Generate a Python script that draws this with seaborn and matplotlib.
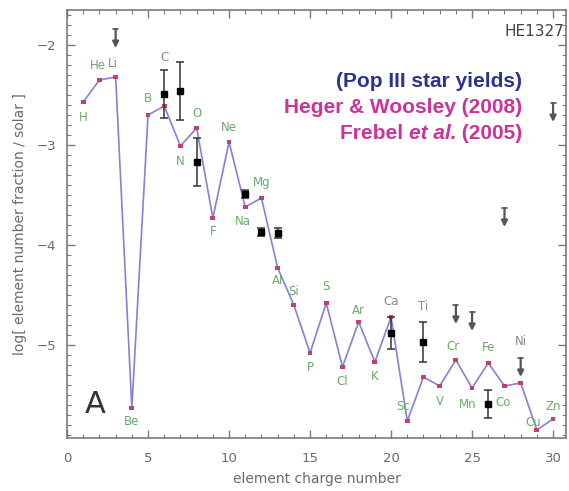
import matplotlib
matplotlib.use("Agg")
import matplotlib.pyplot as plt
from matplotlib.ticker import MultipleLocator
import seaborn as sns

# --- data -------------------------------------------------------------
elements = ["H", "He", "Li", "Be", "B", "C", "N", "O", "F", "Ne",
            "Na", "Mg", "Al", "Si", "P", "S", "Cl", "Ar", "K", "Ca",
            "Sc", "Ti", "V", "Cr", "Mn", "Fe", "Co", "Ni", "Cu", "Zn"]
charge = list(range(1, 31))

# Pop III yield model, log number fraction / solar
model_yield = [-2.57, -2.35, -2.32, -5.63, -2.70, -2.61, -3.01, -2.83, -3.73, -2.97,
               -3.62, -3.53, -4.23, -4.60, -5.08, -4.58, -5.22, -4.77, -5.17, -4.72,
               -5.76, -5.32, -5.41, -5.15, -5.43, -5.18, -5.41, -5.38, -5.85, -5.74]

# HE1327 measured abundances with 1-sigma errors
obs_charge = [6, 7, 8, 11, 12, 13, 20, 22, 26]
obs_value = [-2.49, -2.46, -3.17, -3.49, -3.87, -3.88, -4.88, -4.97, -5.59]
obs_error = [0.24, 0.29, 0.24, 0.04, 0.04, 0.05, 0.16, 0.20, 0.14]

# HE1327 upper limits
lim_charge = [3, 24, 25, 27, 28, 30]
lim_value = [-1.84, -4.60, -4.67, -3.63, -5.13, -2.58]

# --- label placement (offsets from the model point) --------------------
label_dx = [0, -0.1, -0.15, 0, 0, 0, 0, 0, 0, 0,
            -0.15, 0, 0, 0, 0, 0, 0, 0, 0, 0,
            -0.25, 0, 0, -0.2, -0.25, 0, -0.1, 0, -0.25, 0]
label_dy = [-0.15, 0.15, 0.14, -0.14, 0.17, 0.49, -0.15, 0.15, -0.14, 0.15,
            -0.15, 0.15, -0.13, 0.13, -0.15, 0.16, -0.15, 0.11, -0.15, 0.15,
            0.14, 0.70, -0.16, 0.13, -0.17, 0.15, -0.17, 0.41, 0.07, 0.12]
grey_labels = {"Li", "C", "Ti", "Ca", "Ni"}

# --- figure -----------------------------------------------------------
sns.set_theme(style="ticks")
plt.rcParams["font.family"] = ["DejaVu Sans"]

fig = plt.figure(figsize=(5.69, 4.91), dpi=100)
ax = fig.add_axes([0.1178, 0.108, 0.877, 0.8716])

line_col = "#8282d8"
marker_col = "#c4406c"
label_col = "#6aaa6a"
axis_col = "#7a7a7a"

sns.lineplot(x=charge, y=model_yield, ax=ax, color=line_col, lw=1.2,
             sort=False, estimator=None)
sns.scatterplot(x=charge, y=model_yield, ax=ax, marker="s", s=12,
                color=marker_col, edgecolor="none", zorder=3)

ax.errorbar(obs_charge, obs_value, yerr=obs_error, fmt="s", ms=4.5,
            color="black", ecolor="#333333", elinewidth=1.1, capsize=3,
            capthick=1.1, zorder=4)

for z, v in zip(lim_charge, lim_value):
    ax.annotate("", xy=(z, v - 0.19), xytext=(z, v),
                arrowprops=dict(arrowstyle="-|>", color="#555555", lw=1.6,
                                mutation_scale=9, shrinkA=0, shrinkB=0),
                zorder=4)
    ax.plot([z - 0.15, z + 0.15], [v, v], color="#555555", lw=1.2, zorder=4)

for z, v, name, dx, dy in zip(charge, model_yield, elements, label_dx, label_dy):
    ax.text(z + dx, v + dy, name, ha="center", va="center", fontsize=8.5,
            color="#8a8a8a" if name in grey_labels else label_col, zorder=5)

# --- axes -------------------------------------------------------------
ax.set_xlim(0, 30.8)
ax.set_ylim(-5.93, -1.65)
ax.xaxis.set_major_locator(MultipleLocator(5))
ax.xaxis.set_minor_locator(MultipleLocator(1))
ax.yaxis.set_major_locator(MultipleLocator(1))
ax.yaxis.set_minor_locator(MultipleLocator(0.1))
ax.tick_params(which="both", direction="in", top=True, right=True,
               colors=axis_col, labelsize=9.5, labelcolor="#6a6a6a")
ax.tick_params(which="major", length=6, width=1)
ax.tick_params(which="minor", length=3, width=0.8)
ax.tick_params(axis="y", pad=8)
ax.tick_params(axis="x", pad=10)
for s in ax.spines.values():
    s.set_color(axis_col)
    s.set_linewidth(1.2)

ax.set_xlabel("element charge number", fontsize=10, color="#6a6a6a", labelpad=5)
ax.set_ylabel("log[ element number fraction / solar ]", fontsize=10,
              color="#6a6a6a", labelpad=7)

ax.text(1.75, -5.6, "A", fontsize=22, color="#333333", ha="center", va="center")
ax.text(27.0, -1.86, "HE1327", fontsize=11, color="#444444",
        ha="left", va="center")

# --- source note, right aligned --------------------------------------
note_kw = dict(fontsize=15, fontweight="bold", family=["Liberation Sans", "DejaVu Sans"],
               va="baseline")
x_right = 28.1
ax.text(x_right, -2.42, "(Pop III star yields)", ha="right", color="#2e3192", **note_kw)
ax.text(x_right, -2.68, "Heger & Woosley (2008)", ha="right", color="#cc3399", **note_kw)

fig.canvas.draw()
renderer = fig.canvas.get_renderer()
inv = ax.transData.inverted()
t3 = ax.text(x_right, -2.94, " (2005)", ha="right", color="#cc3399", **note_kw)
left = inv.transform(t3.get_window_extent(renderer).p0)[0]
t2 = ax.text(left, -2.94, "et al.", ha="right", color="#cc3399", fontstyle="italic", **note_kw)
left = inv.transform(t2.get_window_extent(renderer).p0)[0]
ax.text(left, -2.94, "Frebel ", ha="right", color="#cc3399", **note_kw)

fig.savefig("out.png", dpi=100)
